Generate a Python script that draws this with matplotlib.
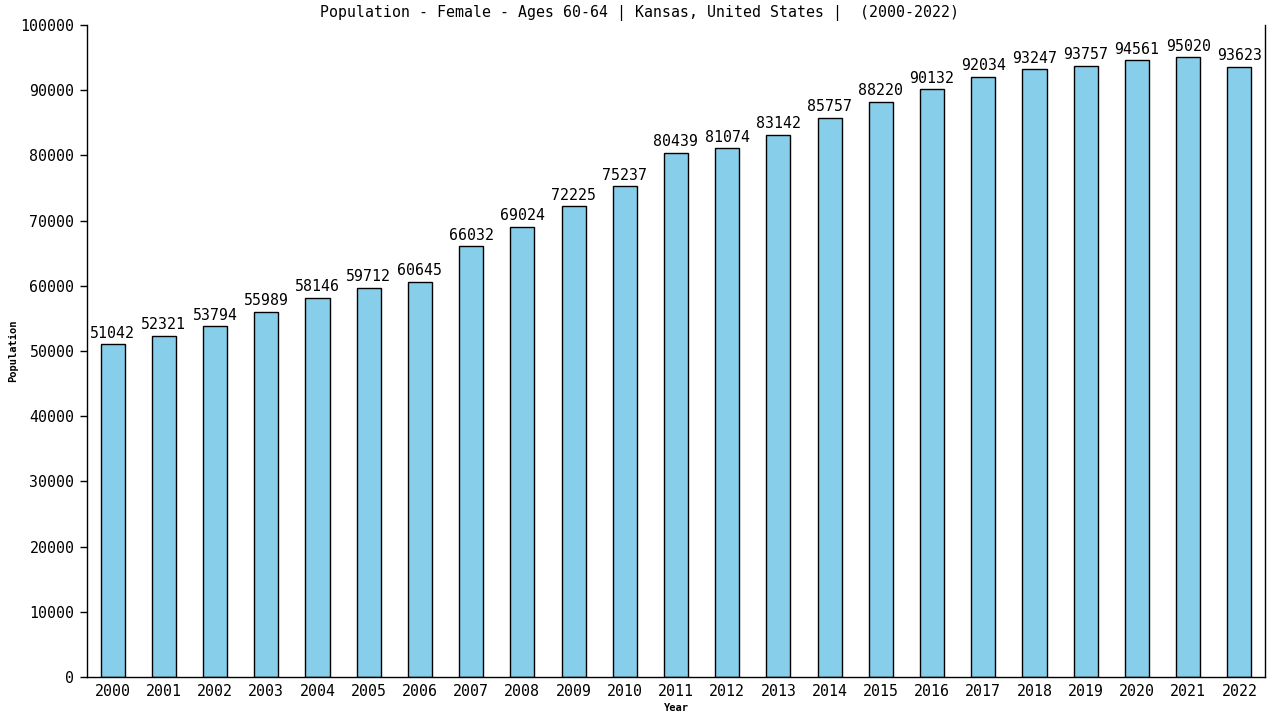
import matplotlib
matplotlib.use("Agg")
import matplotlib.pyplot as plt

years = [str(y) for y in range(2000, 2023)]
population = [51042, 52321, 53794, 55989, 58146, 59712, 60645, 66032, 69024, 72225,
              75237, 80439, 81074, 83142, 85757, 88220, 90132, 92034, 93247, 93757,
              94561, 95020, 93623]
y_ticks = list(range(0, 100001, 10000))

plt.rcParams['font.family'] = ['DejaVu Sans Mono']

fig = plt.figure(figsize=(12.8, 7.2), dpi=100)
ax = fig.add_axes([87 / 1280, 43 / 720, 1178 / 1280, 652 / 720])

x = range(len(years))
ax.bar(x, population, width=0.47, color='#87ceeb', edgecolor='black', linewidth=1.0)
for xi, v in zip(x, population):
    ax.annotate(str(v), (xi, v), xytext=(0, 2.5), textcoords='offset points',
                ha='center', va='bottom', fontsize=10.7)

ax.set_xlim(-0.5, len(years) - 0.5)
ax.set_ylim(0, 100000)
ax.set_yticks(y_ticks)
ax.set_yticklabels([str(t) for t in y_ticks], fontsize=10.7)
ax.set_xticks(list(x))
ax.set_xticklabels(years, fontsize=10.7)
ax.tick_params(axis='x', length=0, pad=5)
ax.tick_params(axis='y', length=5, width=1.0, direction='out', pad=4)

ax.spines['top'].set_visible(False)
for s in ['left', 'right', 'bottom']:
    ax.spines[s].set_linewidth(1.0)

fig.text(0.5, 1 - 13 / 720,
         'Population - Female - Ages 60-64 | Kansas, United States |  (2000-2022)',
         ha='center', va='center', fontsize=10.7)
ax.set_xlabel('Year', fontsize=7.5, fontweight='bold', labelpad=3)
ax.set_ylabel('Population', fontsize=7.5, fontweight='bold', labelpad=2)

fig.savefig('out.png', dpi=100)
